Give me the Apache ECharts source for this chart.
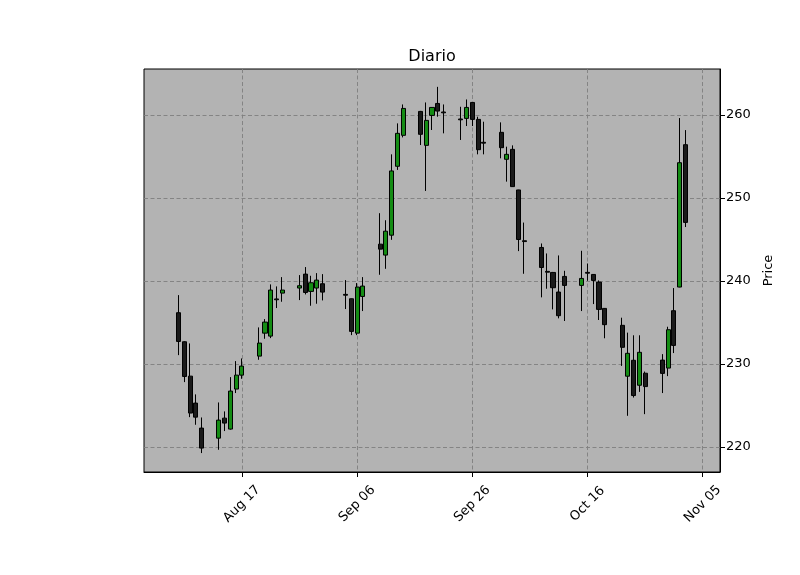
<!DOCTYPE html>
<html>
<head>
<meta charset="utf-8">
<script src="https://cdn.jsdelivr.net/npm/echarts@6/dist/echarts.min.js"></script>
<style>html,body{margin:0;padding:0;background:#fff}#c{width:800px;height:575px}</style>
</head>
<body>
<div id="c"></div>
<script>
const dates = ['2018-08-06','2018-08-07','2018-08-08','2018-08-09','2018-08-10',
'2018-08-13','2018-08-14','2018-08-15','2018-08-16','2018-08-17',
'2018-08-20','2018-08-21','2018-08-22','2018-08-23','2018-08-24',
'2018-08-27','2018-08-28','2018-08-29','2018-08-30','2018-08-31',
'2018-09-04','2018-09-05','2018-09-06','2018-09-07',
'2018-09-10','2018-09-11','2018-09-12','2018-09-13','2018-09-14',
'2018-09-17','2018-09-18','2018-09-19','2018-09-20','2018-09-21',
'2018-09-24','2018-09-25','2018-09-26','2018-09-27','2018-09-28',
'2018-10-01','2018-10-02','2018-10-03','2018-10-04','2018-10-05',
'2018-10-08','2018-10-09','2018-10-10','2018-10-11','2018-10-12',
'2018-10-15','2018-10-16','2018-10-17','2018-10-18','2018-10-19',
'2018-10-22','2018-10-23','2018-10-24','2018-10-25','2018-10-26',
'2018-10-29','2018-10-30','2018-10-31','2018-11-01','2018-11-02'];
const opens = [236.19,232.69,228.55,225.30,222.29,
221.08,223.49,222.17,226.99,228.67,
230.96,233.73,233.37,237.85,238.55,
239.16,240.84,238.76,239.16,239.68,
238.40,237.87,233.73,238.15,
244.45,243.13,245.53,253.83,257.56,
260.44,256.35,259.96,261.40,260.37,
259.53,259.60,261.52,259.48,256.72,
257.92,254.67,255.87,250.98,244.86,
244.05,241.17,241.04,238.68,240.56,
239.48,241.05,240.80,239.88,236.71,
234.67,228.54,230.46,227.45,228.90,
230.48,229.52,236.43,239.28,256.43];
const closes = [232.73,228.51,224.10,223.61,219.88,
223.25,222.89,226.75,228.67,229.76,
232.53,235.06,238.92,237.75,238.92,
239.44,238.63,239.80,240.12,238.67,
238.30,233.94,239.28,239.40,
243.85,246.01,253.27,257.80,260.80,
257.68,259.36,260.92,260.48,260.27,
259.43,260.92,259.48,255.83,256.62,
256.07,255.27,251.38,245.01,244.76,
241.64,241.07,239.20,235.83,239.48,
240.32,240.95,240.08,236.59,234.75,
232.02,231.30,226.21,231.42,227.29,
228.88,234.14,232.25,254.26,247.07];
const lows = [231.08,227.83,223.61,222.69,219.28,
219.68,221.93,222.10,226.51,228.23,
230.52,233.05,233.13,236.75,237.51,
237.71,238.39,237.03,237.27,237.67,
236.63,233.49,233.49,236.39,
240.76,241.48,244.97,253.39,257.31,
256.39,250.86,258.20,259.80,257.80,
257.00,258.68,258.68,255.27,255.27,
254.79,251.98,251.35,243.61,240.88,
238.04,239.08,236.59,235.51,235.19,
236.39,240.04,237.23,235.31,233.11,
229.78,223.77,225.97,226.65,223.97,
226.51,228.55,231.33,239.25,246.51];
const highs = [238.31,232.75,232.49,226.35,223.57,
225.38,224.30,228.43,230.36,230.68,
234.42,235.42,239.60,239.36,240.48,
240.72,241.69,240.64,240.96,240.84,
240.12,237.90,239.76,240.48,
248.18,247.33,255.27,259.00,261.28,
260.50,261.52,260.95,263.40,261.28,
261.00,261.88,261.55,259.80,259.20,
259.12,256.19,256.35,251.00,247.05,
244.53,243.33,241.10,243.09,241.24,
243.65,242.12,240.85,240.08,236.75,
235.59,233.79,233.47,233.47,229.10,
231.20,234.50,239.16,259.64,258.19];
const xTickDates = ['2018-08-17','2018-09-06','2018-09-26','2018-10-16','2018-11-05'];
const yTicks = [220, 230, 240, 250, 260];
const xRange = ['2018-07-31','2018-11-08'];
const yRange = [217.0, 265.55];
const monthNames = ['Jan','Feb','Mar','Apr','May','Jun','Jul','Aug','Sep','Oct','Nov','Dec'];

const dayNum = s => Math.round(Date.parse(s + 'T00:00:00Z') / 86400000);
const fmtDay = v => { const d = new Date(v * 86400000); const dd = d.getUTCDate(); return monthNames[d.getUTCMonth()] + ' ' + (dd < 10 ? '0' + dd : dd); };

const candleData = dates.map((d, i) => [dayNum(d), opens[i], closes[i], lows[i], highs[i]]);
const xTicks = xTickDates.map(dayNum);

const gridLine = { show: true, lineStyle: { color: '#7f7f7f', type: [4, 2.5], width: 0.9 } };
const font = 'DejaVu Sans';

const chart = echarts.init(document.getElementById('c'), null, { renderer: 'canvas' });
chart.setOption({
  animation: false,
  backgroundColor: '#ffffff',
  title: {
    text: 'Diario', left: 427, top: 44, textAlign: 'center',
    textStyle: { fontFamily: font, fontSize: 16, fontWeight: 'normal', color: '#000' }
  },
  grid: { left: 144, right: 80, top: 69, bottom: 103, show: true, backgroundColor: '#b3b3b3', borderColor: '#000', borderWidth: 1 },
  xAxis: [{
    type: 'value', min: dayNum(xRange[0]), max: dayNum(xRange[1]),
    axisLine: { show: true, lineStyle: { color: '#000', width: 1 } },
    axisTick: { show: true, customValues: xTicks, length: 5, lineStyle: { color: '#000' } },
    axisLabel: { customValues: xTicks, rotate: 45, align: 'center', verticalAlign: 'middle', formatter: fmtDay, fontFamily: font, fontSize: 13, color: '#000', margin: 32 },
    splitLine: gridLine
  }],
  yAxis: [{
    type: 'value', position: 'right', min: yRange[0], max: yRange[1],
    name: 'Price', nameLocation: 'middle', nameRotate: 90, nameGap: 42,
    nameTextStyle: { fontFamily: font, fontSize: 13, color: '#000' },
    axisLine: { show: true, lineStyle: { color: '#000', width: 1 } },
    axisTick: { show: true, customValues: yTicks, length: 5, lineStyle: { color: '#000' } },
    axisLabel: { customValues: yTicks, fontFamily: font, fontSize: 13, color: '#000', margin: 6 },
    splitLine: gridLine
  }],
  series: [{
    type: 'candlestick',
    data: candleData,
    barWidth: 4.6,
    itemStyle: { color: '#148c14', color0: '#1a1a1a', borderColor: '#000', borderColor0: '#000', borderWidth: 1 }
  }]
});
</script>
</body>
</html>
